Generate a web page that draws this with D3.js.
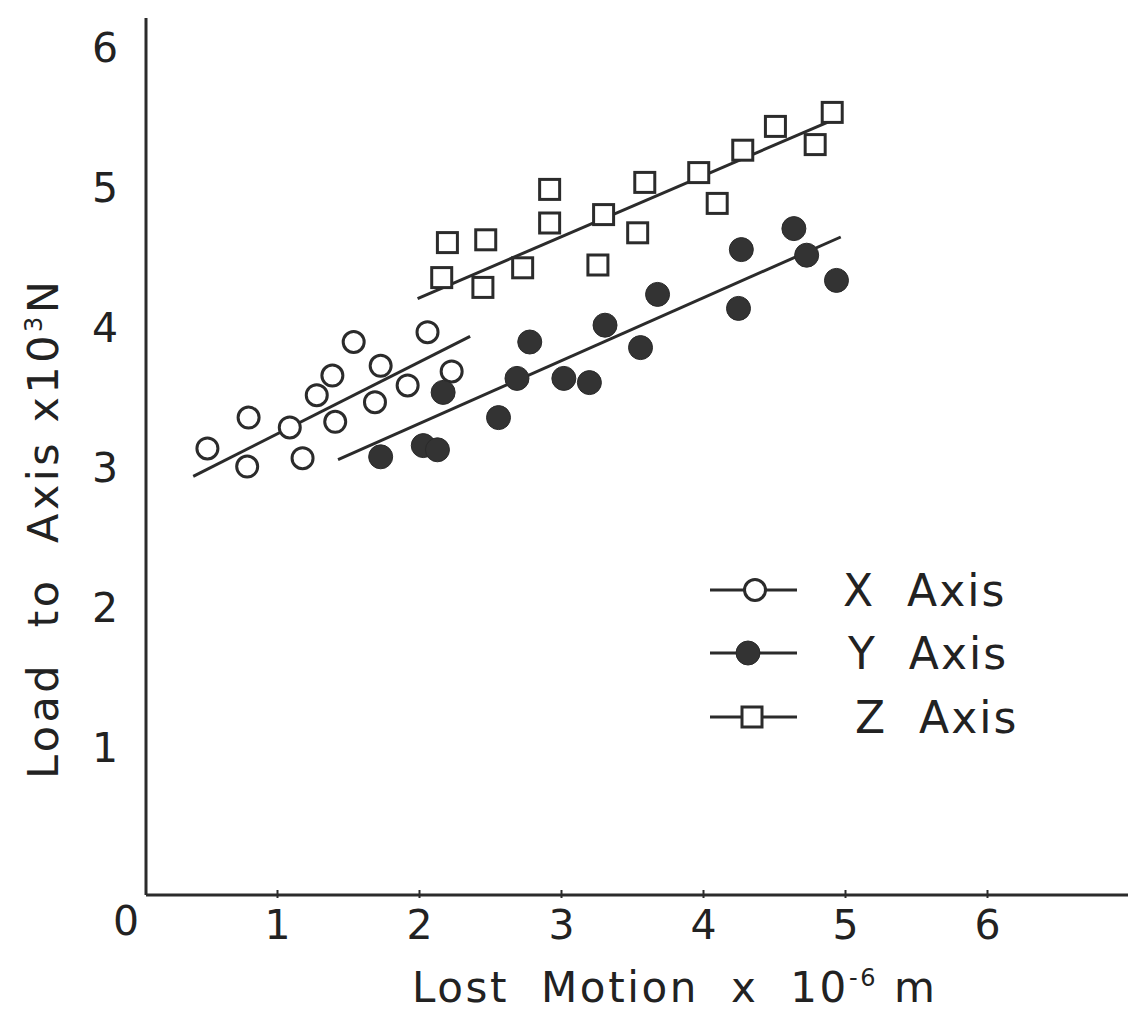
<!DOCTYPE html>
<html>
<head>
<meta charset="utf-8">
<script src="https://cdn.jsdelivr.net/npm/d3@7"></script>
<style>
  body { margin: 0; background: #fff; }
  svg { display: block; }
  text { font-family: "DejaVu Sans", sans-serif; fill: #222; }
</style>
</head>
<body>
<svg id="chart" width="1145" height="1024"></svg>
<script>
// lost motion (x 10^-6 m) vs load (x 10^3 N)
const xAxisPts = [
  [0.51, 3.14], [0.80, 3.36], [0.79, 3.01], [1.09, 3.29], [1.18, 3.07],
  [1.28, 3.52], [1.39, 3.66], [1.41, 3.33], [1.54, 3.90], [1.73, 3.73],
  [1.69, 3.47], [1.92, 3.59], [2.06, 3.97], [2.23, 3.69]
];
const yAxisPts = [
  [1.73, 3.08], [2.03, 3.16], [2.13, 3.13], [2.17, 3.54], [2.56, 3.36],
  [2.69, 3.64], [2.78, 3.90], [3.02, 3.64], [3.20, 3.61], [3.31, 4.02],
  [3.56, 3.86], [3.68, 4.24], [4.25, 4.14], [4.27, 4.56], [4.64, 4.71],
  [4.73, 4.52], [4.94, 4.34]
];
const zAxisPts = [
  [2.16, 4.36], [2.20, 4.61], [2.45, 4.29], [2.47, 4.63], [2.73, 4.43],
  [2.92, 4.99], [2.92, 4.75], [3.26, 4.45], [3.30, 4.81], [3.54, 4.68],
  [3.59, 5.04], [3.97, 5.11], [4.10, 4.89], [4.28, 5.27], [4.51, 5.44],
  [4.79, 5.31], [4.91, 5.54]
];
// hand drawn fit lines (start, end)
const fitX = [[0.41, 2.94], [2.36, 3.94]];
const fitY = [[1.43, 3.06], [4.97, 4.65]];
const fitZ = [[1.99, 4.21], [4.97, 5.51]];

const xTicks = [1, 2, 3, 4, 5, 6];
const yTicks = [1, 2, 3, 4, 5, 6];
const legendNames = ["X Axis", "Y Axis", "Z Axis"];

const ink = "#2b2b2b";
const svg = d3.select("#chart");

const x = d3.scaleLinear().domain([0, 7]).range([135, 1129]);
const y = d3.scaleLinear().domain([0, 6]).range([888, 48]);

const frameLeft = 146, frameBottom = 895, frameTop = 18, frameRight = 1128;

// frame
svg.append("line")
  .attr("x1", frameLeft).attr("y1", frameTop)
  .attr("x2", frameLeft).attr("y2", frameBottom)
  .attr("stroke", ink).attr("stroke-width", 3);
svg.append("line")
  .attr("x1", frameLeft).attr("y1", frameBottom)
  .attr("x2", frameRight).attr("y2", frameBottom)
  .attr("stroke", ink).attr("stroke-width", 3);

// x ticks + labels
const gx = svg.append("g")
  .attr("transform", `translate(0,${frameBottom})`)
  .call(d3.axisBottom(x).tickValues(xTicks).tickSize(5).tickPadding(10).tickFormat(d3.format("d")));
gx.select(".domain").remove();
gx.selectAll(".tick line").attr("stroke", ink).attr("stroke-width", 2).attr("y1", -5).attr("y2", 3);
gx.selectAll(".tick text").attr("font-size", 41).attr("fill", ink).attr("font-family", "DejaVu Sans");

svg.append("text")
  .attr("x", 126).attr("y", 935)
  .attr("text-anchor", "middle")
  .attr("font-size", 41)
  .text("0");

// y labels
const gy = svg.append("g")
  .attr("transform", `translate(${frameLeft},0)`)
  .call(d3.axisLeft(y).tickValues(yTicks).tickSize(0).tickPadding(28).tickFormat(d3.format("d")));
gy.select(".domain").remove();
gy.selectAll(".tick text").attr("font-size", 41).attr("fill", ink).attr("font-family", "DejaVu Sans");

// axis titles
const xt = svg.append("text")
  .attr("x", 412).attr("y", 1002)
  .attr("font-size", 42)
  .attr("letter-spacing", 2.6)
  .attr("xml:space", "preserve");
xt.append("tspan").text("Lost  Motion  x  10");
xt.append("tspan").attr("font-size", 24).attr("dy", -16).text("-6");
xt.append("tspan").attr("dy", 16).text(" m");

const yt = svg.append("text")
  .attr("transform", "translate(58,779) rotate(-90)")
  .attr("font-size", 43)
  .attr("letter-spacing", 3.5)
  .attr("xml:space", "preserve");
yt.append("tspan").text("Load  to  Axis x10");
yt.append("tspan").attr("font-size", 24).attr("dy", -16).text("3");
yt.append("tspan").attr("dy", 16).text("N");

// fit lines
const line = d3.line().x(d => x(d[0])).y(d => y(d[1]));
[fitX, fitY, fitZ].forEach(f => {
  svg.append("path").attr("d", line(f))
    .attr("fill", "none").attr("stroke", ink).attr("stroke-width", 3);
});

// markers
function drawMarker(g, kind) {
  if (kind === "open") {
    g.append("circle").attr("r", 10.5).attr("fill", "#fff").attr("stroke", ink).attr("stroke-width", 3);
  } else if (kind === "filled") {
    g.append("circle").attr("r", 12).attr("fill", "#333").attr("stroke", "#2a2a2a").attr("stroke-width", 1);
  } else {
    g.append("rect").attr("x", -10).attr("y", -10).attr("width", 20).attr("height", 20)
      .attr("fill", "#fff").attr("stroke", ink).attr("stroke-width", 3);
  }
}

const series = [
  { pts: xAxisPts, kind: "open" },
  { pts: yAxisPts, kind: "filled" },
  { pts: zAxisPts, kind: "square" }
];

series.forEach(s => {
  svg.append("g").selectAll("g")
    .data(s.pts)
    .enter()
    .append("g")
    .attr("transform", d => `translate(${x(d[0])},${y(d[1])})`)
    .each(function () { drawMarker(d3.select(this), s.kind); });
});

// legend
const legendY = [590, 653, 717];
const legendTextX = [843, 848, 855];
series.forEach((s, i) => {
  const g = svg.append("g").attr("transform", `translate(0,${legendY[i]})`);
  g.append("line").attr("x1", 710).attr("x2", 797)
    .attr("stroke", ink).attr("stroke-width", 3);
  const m = g.append("g").attr("transform", `translate(${[755, 748, 752][i]},0)`);
  drawMarker(m, s.kind);
  g.append("text")
    .attr("x", legendTextX[i]).attr("y", 16)
    .attr("font-size", 44)
    .attr("letter-spacing", 2)
    .attr("xml:space", "preserve")
    .text(legendNames[i].replace(" ", "  "));
});
</script>
</body>
</html>
